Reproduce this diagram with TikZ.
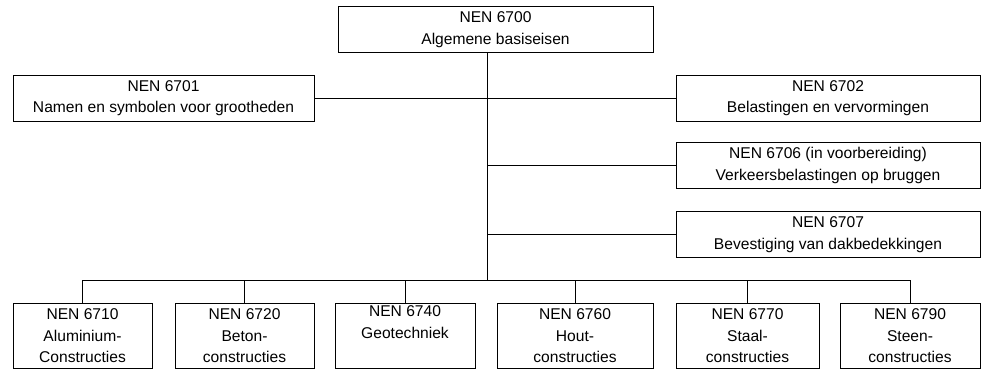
\documentclass[tikz,border=0pt]{standalone}
\usepackage{fontspec}
\setmainfont{Liberation Sans}
\begin{document}
\begin{tikzpicture}[x=1pt, y=-1pt,
        norm/.style={draw, rectangle, align=center, inner sep=0pt,
            font=\fontsize{15.6}{21.5}\selectfont},
        wide/.style={norm, minimum height=46pt},
        low/.style={norm, minimum height=65pt}]
    \useasboundingbox (0,0) rectangle (982,370);
    \node[wide, minimum width=315pt] at (495.5, 29.5) (n6700) {NEN 6700\\Algemene basiseisen};
    \node[wide, minimum width=301pt] at (163.5, 98) (n6701) {NEN 6701\\Namen en symbolen voor grootheden};
    \node[wide, minimum width=304pt] at (828, 98) (n6702) {NEN 6702\\Belastingen en vervormingen};
    \node[wide, minimum width=304pt] at (828, 165.5) (n6706) {NEN 6706 (in voorbereiding)\\Verkeersbelastingen op bruggen};
    \node[wide, minimum width=304pt] at (828, 234.5) (n6707) {NEN 6707\\Bevestiging van dakbedekkingen};
    \node[low, minimum width=139pt] at (82.5, 336) (n6710) {NEN 6710\\Aluminium-\\Constructies};
    \node[low, minimum width=139pt] at (244.5, 336) (n6720) {NEN 6720\\Beton-\\constructies};
    \node[low, minimum width=140pt] at (405, 336) (n6740) {NEN 6740\\Geotechniek\\\strut};
    \node[low, minimum width=156pt] at (575, 336) (n6760) {NEN 6760\\Hout-\\constructies};
    \node[low, minimum width=143pt] at (747.5, 336) (n6770) {NEN 6770\\Staal-\\constructies};
    \node[low, minimum width=140pt] at (910, 336) (n6790) {NEN 6790\\Steen-\\constructies};
    \coordinate (bus) at (487, 280);

    \draw (n6700.south -| bus) -- (bus);
    \draw (n6701.east) -- (n6702.west);
    \draw (n6706.west -| bus) -- (n6706.west);
    \draw (n6707.west -| bus) -- (n6707.west);
    \foreach \n in {n6710, n6720, n6740, n6760, n6770, n6790}
        \draw (\n.north) |- (bus);
\end{tikzpicture}
\end{document}
